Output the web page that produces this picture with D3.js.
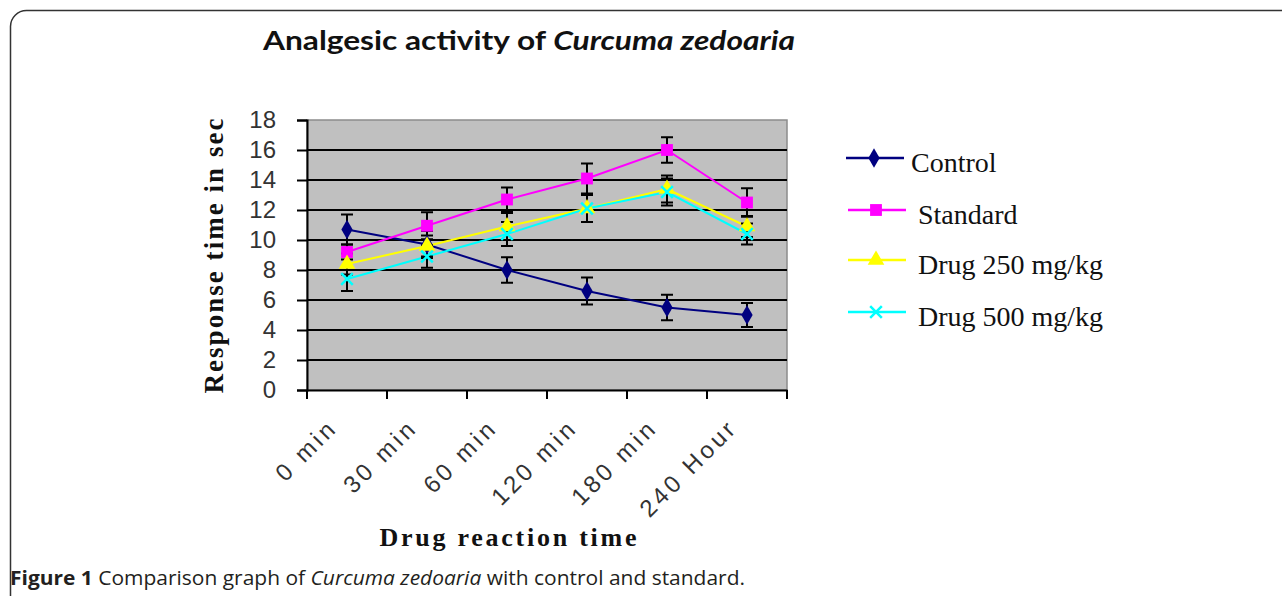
<!DOCTYPE html>
<html>
<head>
<meta charset="utf-8">
<script src="https://cdn.jsdelivr.net/npm/d3@7"></script>
<style>
  body { margin: 0; background: #fff; }
  svg { display: block; }
</style>
</head>
<body>
<svg id="chart" width="1282" height="596"></svg>
<script>
const categories = ["0 min", "30 min", "60 min", "120 min", "180 min", "240 Hour"];
const yTicks = [0, 2, 4, 6, 8, 10, 12, 14, 16, 18];

const control = [10.7, 9.7, 8.0, 6.6, 5.5, 5.0];
const standard = [9.2, 10.95, 12.7, 14.1, 16.0, 12.5];
const drug250 = [8.4, 9.6, 10.9, 12.1, 13.4, 10.9];
const drug500 = [7.4, 8.9, 10.4, 12.1, 13.2, 10.4];

const controlErr = [1.0, 0.9, 0.85, 0.9, 0.85, 0.8];
const standardErr = [0.5, 0.9, 0.8, 1.0, 0.85, 0.95];
const drug250Err = [0.7, 0.7, 0.9, 0.9, 0.9, 0.7];
const drug500Err = [0.8, 0.75, 0.8, 0.9, 0.9, 0.7];

const series = [
  { name: "Control", values: control, err: controlErr, color: "#000080", symbol: d3.symbolDiamond, size: 110, stroke: false },
  { name: "Standard", values: standard, err: standardErr, color: "#ff00ff", symbol: d3.symbolSquare, size: 140, stroke: false },
  { name: "Drug 250 mg/kg", values: drug250, err: drug250Err, color: "#ffff00", symbol: d3.symbolTriangle, size: 120, stroke: false },
  { name: "Drug 500 mg/kg", values: drug500, err: drug500Err, color: "#00ffff", symbol: d3.symbolX, size: 90, stroke: true }
];

const svg = d3.select("#chart");
const plot = { left: 307, right: 787, top: 120, bottom: 390 };

// frame of the figure
svg.append("rect")
  .attr("x", 10.5).attr("y", 10.5)
  .attr("width", 1320).attr("height", 640)
  .attr("rx", 16)
  .attr("fill", "none")
  .attr("stroke", "#333")
  .attr("stroke-width", 1.5);

const x = d3.scaleBand().domain(categories).range([plot.left, plot.right]).padding(0);
const y = d3.scaleLinear().domain([0, 18]).range([plot.bottom, plot.top]);
const cx = (i) => x(categories[i]) + x.bandwidth() / 2;

// plot background
svg.append("rect")
  .attr("x", plot.left).attr("y", plot.top)
  .attr("width", plot.right - plot.left).attr("height", plot.bottom - plot.top)
  .attr("fill", "#c0c0c0")
  .attr("stroke", "#8c8c8c")
  .attr("stroke-width", 1.5);

// gridlines
svg.append("g")
  .selectAll("line")
  .data(yTicks.filter((t) => t > 0 && t < 18))
  .enter()
  .append("line")
  .attr("x1", plot.left).attr("x2", plot.right)
  .attr("y1", (d) => y(d)).attr("y2", (d) => y(d))
  .attr("stroke", "#000")
  .attr("stroke-width", 2);

// y axis
const yAxis = svg.append("g")
  .attr("transform", `translate(${plot.left},0)`)
  .call(d3.axisLeft(y).tickValues(yTicks).tickSize(10).tickPadding(21));
yAxis.select(".domain").attr("stroke", "#000").attr("stroke-width", 2);
yAxis.selectAll(".tick line").attr("stroke", "#000").attr("stroke-width", 2);
yAxis.selectAll(".tick text")
  .attr("font-family", "Liberation Sans, Arial, sans-serif")
  .attr("font-size", 24)
  .attr("fill", "#333");

// x axis
const xAxis = svg.append("g")
  .attr("transform", `translate(0,${plot.bottom})`)
  .call(d3.axisBottom(x).tickSize(0).tickFormat(""));
xAxis.select(".domain").attr("stroke", "#000").attr("stroke-width", 2);

svg.append("g")
  .selectAll("line")
  .data(d3.range(categories.length + 1))
  .enter()
  .append("line")
  .attr("x1", (i) => plot.left + i * x.bandwidth())
  .attr("x2", (i) => plot.left + i * x.bandwidth())
  .attr("y1", plot.bottom).attr("y2", plot.bottom + 9)
  .attr("stroke", "#000")
  .attr("stroke-width", 2);

svg.append("g")
  .selectAll("text")
  .data(categories)
  .enter()
  .append("text")
  .attr("transform", (d, i) => `translate(${cx(i) - 8},${plot.bottom + 39}) rotate(-45)`)
  .attr("text-anchor", "end")
  .attr("font-family", "Liberation Sans, Arial, sans-serif")
  .attr("font-size", 24)
  .attr("letter-spacing", 3.5)
  .attr("fill", "#333")
  .text((d) => d);

// lines
const line = d3.line().x((d, i) => cx(i)).y((d) => y(d));
series.forEach((s) => {
  svg.append("path")
    .datum(s.values)
    .attr("d", line)
    .attr("fill", "none")
    .attr("stroke", s.color)
    .attr("stroke-width", 2);
});

// error bars
series.forEach((s) => {
  const g = svg.append("g");
  s.values.forEach((v, i) => {
    const px = cx(i);
    const top = y(v + s.err[i]);
    const bot = y(v - s.err[i]);
    g.append("line").attr("x1", px).attr("x2", px).attr("y1", top).attr("y2", bot)
      .attr("stroke", "#000").attr("stroke-width", 2);
    [top, bot].forEach((yy) => {
      g.append("line").attr("x1", px - 6).attr("x2", px + 6).attr("y1", yy).attr("y2", yy)
        .attr("stroke", "#000").attr("stroke-width", 2);
    });
  });
});

// markers
const drawMarker = (sel, s) => {
  sel.attr("d", d3.symbol().type(s.symbol).size(s.size)())
    .attr("fill", s.stroke ? "none" : s.color)
    .attr("stroke", s.stroke ? s.color : "none")
    .attr("stroke-width", s.stroke ? 2.5 : 0);
};
series.forEach((s) => {
  svg.append("g")
    .selectAll("path")
    .data(s.values)
    .enter()
    .append("path")
    .attr("transform", (d, i) => `translate(${cx(i)},${y(d)})`)
    .call(drawMarker, s);
});

// legend
const legendY = [158, 210, 260, 312];
const legend = svg.append("g");
series.forEach((s, i) => {
  const ly = legendY[i];
  const x0 = i === 0 ? 846 : 848;
  legend.append("line")
    .attr("x1", x0).attr("x2", x0 + 58)
    .attr("y1", ly).attr("y2", ly)
    .attr("stroke", s.color).attr("stroke-width", 2.5);
  legend.append("path")
    .attr("transform", `translate(${x0 + 28},${ly})`)
    .call(drawMarker, s);
  legend.append("text")
    .attr("x", i === 0 ? 911 : 918)
    .attr("y", ly + 14)
    .attr("font-family", "Liberation Serif, Times New Roman, serif")
    .attr("font-size", 28)
    .attr("fill", "#111")
    .text(s.name);
});

// title
const title = svg.append("text")
  .attr("x", 263).attr("y", 50)
  .attr("font-family", "Lato, Open Sans, sans-serif")
  .attr("font-weight", "bold")
  .attr("font-size", 27)
  .attr("fill", "#111")
  .attr("textLength", 532)
  .attr("lengthAdjust", "spacingAndGlyphs");
title.append("tspan").text("Analgesic activity of ");
title.append("tspan").attr("font-style", "italic").text("Curcuma zedoaria");

// axis titles
svg.append("text")
  .attr("transform", `translate(223,256) rotate(-90)`)
  .attr("text-anchor", "middle")
  .attr("font-family", "Liberation Serif, Times New Roman, serif")
  .attr("font-weight", "bold")
  .attr("font-size", 27)
  .attr("textLength", 275)
  .attr("lengthAdjust", "spacing")
  .attr("fill", "#111")
  .text("Response time in sec");

svg.append("text")
  .attr("x", 508).attr("y", 546)
  .attr("text-anchor", "middle")
  .attr("font-family", "Liberation Serif, Times New Roman, serif")
  .attr("font-weight", "bold")
  .attr("font-size", 26)
  .attr("textLength", 257)
  .attr("lengthAdjust", "spacing")
  .attr("fill", "#111")
  .text("Drug reaction time");

// caption
const caption = svg.append("text")
  .attr("x", 10).attr("y", 585)
  .attr("font-family", "Open Sans, sans-serif")
  .attr("font-size", 20)
  .attr("fill", "#231f20")
  .attr("textLength", 735)
  .attr("lengthAdjust", "spacingAndGlyphs");
caption.append("tspan").attr("font-weight", "bold").text("Figure 1 ");
caption.append("tspan").text("Comparison graph of ");
caption.append("tspan").attr("font-style", "italic").text("Curcuma zedoaria");
caption.append("tspan").text(" with control and standard.");
</script>
</body>
</html>
